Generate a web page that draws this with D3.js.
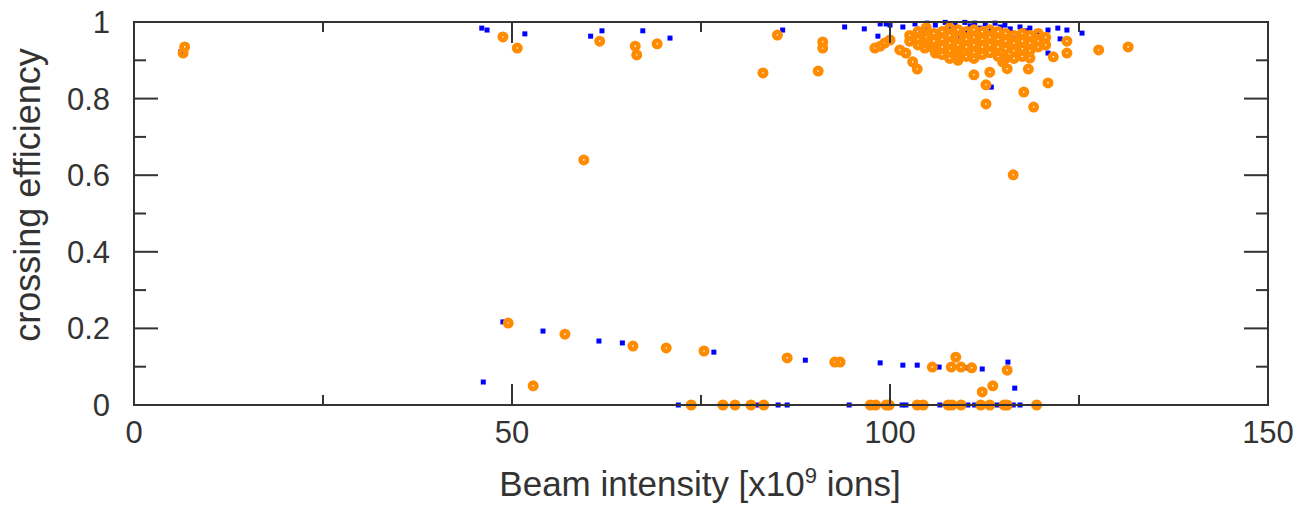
<!DOCTYPE html>
<html>
<head>
<meta charset="utf-8">
<script src="https://cdn.jsdelivr.net/npm/d3@7"></script>
<style>
  body { margin: 0; background: #fff; }
  text { font-family: "Liberation Sans", Arial, sans-serif; fill: #333; }
</style>
</head>
<body>
<svg id="chart" width="1300" height="505"></svg>
<script>
// beam intensity (x) / crossing efficiency (y)
var blueTop = [
    [6.2, 0.922], [46.0, 0.984], [46.7, 0.979], [51.7, 0.969], [60.4, 0.963], [61.9, 0.977],
    [67.3, 0.977], [70.9, 0.958], [85.8, 0.979], [94.0, 0.987], [96.6, 0.982], [98.4, 0.963],
    [98.7, 0.995], [99.5, 0.995], [100.0, 0.992], [101.7, 0.987], [103.3, 0.995], [104.1, 0.971],
    [104.6, 0.979], [104.9, 0.997], [106.0, 0.992], [107.3, 0.999], [107.9, 0.987], [108.6, 0.995],
    [109.3, 0.963], [109.9, 0.977], [109.9, 0.999], [110.6, 0.990], [111.2, 0.997], [111.9, 0.984],
    [112.6, 0.995], [113.2, 0.979], [113.9, 0.997], [114.6, 0.987], [115.2, 0.992], [115.9, 0.982],
    [116.3, 0.958], [117.2, 0.987], [117.9, 0.977], [118.5, 0.984], [119.4, 0.974], [120.9, 0.979],
    [122.2, 0.984], [123.4, 0.979], [122.5, 0.956], [125.4, 0.971], [120.9, 0.919], [113.4, 0.830]
];
var blueLow = [
    [46.2, 0.060], [48.8, 0.217], [54.1, 0.193], [61.5, 0.167], [64.6, 0.162], [76.7, 0.138],
    [88.8, 0.117], [98.7, 0.110], [101.7, 0.104], [103.6, 0.104], [106.5, 0.099], [110.3, 0.097],
    [112.2, 0.094], [115.6, 0.112], [116.5, 0.044]
];
var blueZero = [72.0, 82.4, 85.2, 86.4, 94.6, 101.6, 102.1, 106.6, 110.3, 111.2, 114.2, 116.3, 117.2];

var orangeTop = [
    [6.5, 0.919], [6.7, 0.935], [48.8, 0.961], [50.7, 0.932], [61.6, 0.950], [66.3, 0.937],
    [66.5, 0.914], [69.2, 0.943], [59.5, 0.640], [85.1, 0.966], [83.2, 0.867], [90.5, 0.872],
    [91.1, 0.948], [91.1, 0.932], [98.0, 0.932], [98.7, 0.937], [99.3, 0.945], [100.0, 0.953],
    [101.3, 0.927], [102.1, 0.919], [103.0, 0.896], [103.6, 0.877], [104.6, 0.932], [106.0, 0.919],
    [111.1, 0.862], [113.2, 0.869], [112.7, 0.836], [112.7, 0.786], [118.3, 0.877], [117.7, 0.817],
    [119.0, 0.778], [120.9, 0.841], [121.6, 0.909], [123.4, 0.950], [123.4, 0.919], [127.6, 0.927],
    [131.5, 0.935], [116.3, 0.601], [114.9, 0.896], [115.5, 0.878], [118.5, 0.906], [108.9, 0.909]
];
var orangeCluster = [
    [102.6, [0.965, 0.95]],
    [103.7, [0.975, 0.955, 0.94]],
    [104.8, [0.985, 0.96, 0.945]],
    [105.8, [0.97, 0.95, 0.93]],
    [106.9, [0.975, 0.955, 0.935, 0.915]],
    [107.9, [0.985, 0.965, 0.945, 0.925, 0.905]],
    [109.0, [0.98, 0.96, 0.94, 0.92, 0.9]],
    [110.1, [0.975, 0.955, 0.935, 0.91]],
    [111.1, [0.98, 0.96, 0.94, 0.92, 0.905]],
    [112.2, [0.975, 0.955, 0.935, 0.915]],
    [113.2, [0.98, 0.96, 0.94, 0.92]],
    [114.3, [0.975, 0.955, 0.935, 0.91]],
    [115.3, [0.97, 0.95, 0.93, 0.905]],
    [116.4, [0.965, 0.945, 0.925, 0.905]],
    [117.5, [0.97, 0.95, 0.93, 0.91]],
    [118.5, [0.965, 0.945, 0.925]],
    [119.6, [0.97, 0.95, 0.935]],
    [120.6, [0.96, 0.94]]
];
var orangeLow = [
    [49.5, 0.214], [52.8, 0.050], [57.0, 0.185], [66.0, 0.154], [70.4, 0.149], [75.4, 0.141],
    [86.4, 0.123], [92.7, 0.112], [93.4, 0.112], [105.6, 0.099], [108.1, 0.099], [108.7, 0.125],
    [109.4, 0.099], [110.8, 0.097], [115.5, 0.091], [113.6, 0.050], [112.2, 0.034]
];
var orangeZero = [73.7, 77.9, 79.5, 81.6, 83.3, 97.4, 98.1, 99.5, 99.9, 103.6, 104.4, 107.7,
    108.2, 109.4, 112.0, 113.2, 115.1, 115.5, 119.4];

var xTicks = [0, 50, 100, 150];
var xMinor = [25, 75, 125];
var yTicks = [0, 0.2, 0.4, 0.6, 0.8, 1];
var yMinor = [0.1, 0.3, 0.5, 0.7, 0.9];

function drawChart() {
    var svg = d3.select("#chart");
    var pLeft = 134, pRight = 1268, pTop = 22, pBottom = 405;

    var x = d3.scaleLinear().domain([0, 150]).range([pLeft, pRight]);
    var y = d3.scaleLinear().domain([0, 1]).range([pBottom, pTop]);

    var blue = blueTop.concat(blueLow, blueZero.map(function(v) { return [v, 0]; }));
    var orange = orangeTop.concat(orangeLow, orangeZero.map(function(v) { return [v, 0]; }));
    orangeCluster.forEach(function(c) {
        c[1].forEach(function(v) { orange.push([c[0], v]); });
    });

    // blue squares underneath
    svg.append("g").selectAll("rect")
        .data(blue)
        .enter().append("rect")
        .attr("x", function(d) { return x(d[0]) - 2.5; })
        .attr("y", function(d) { return y(d[1]) - 2.5; })
        .attr("width", 5)
        .attr("height", 5)
        .style("fill", "#0000ff");

    // orange dots with a pin hole in the middle
    function ringPath(r, h) {
        var p = d3.path();
        p.moveTo(r, 0); p.arc(0, 0, r, 0, 2 * Math.PI);
        p.moveTo(h, 0); p.arc(0, 0, h, 0, 2 * Math.PI);
        return p.toString();
    }
    svg.append("g").selectAll("path")
        .data(orange)
        .enter().append("path")
        .attr("d", ringPath(5.5, 0.8))
        .attr("transform", function(d) { return "translate(" + x(d[0]) + "," + y(d[1]) + ")"; })
        .style("fill", "#ff8c00")
        .style("fill-rule", "evenodd");

    // frame
    var axisColor = "#333";
    svg.append("rect")
        .attr("x", pLeft).attr("y", pTop)
        .attr("width", pRight - pLeft).attr("height", pBottom - pTop)
        .style("fill", "none").style("stroke", axisColor).style("stroke-width", 2);

    var ticks = svg.append("g").style("stroke", axisColor).style("stroke-width", 2);
    function xTick(v, len) {
        ticks.append("line").attr("x1", x(v)).attr("x2", x(v)).attr("y1", pBottom).attr("y2", pBottom - len);
        ticks.append("line").attr("x1", x(v)).attr("x2", x(v)).attr("y1", pTop).attr("y2", pTop + len);
    }
    function yTick(v, len) {
        ticks.append("line").attr("y1", y(v)).attr("y2", y(v)).attr("x1", pLeft).attr("x2", pLeft + len);
        ticks.append("line").attr("y1", y(v)).attr("y2", y(v)).attr("x1", pRight).attr("x2", pRight - len);
    }
    xTicks.forEach(function(v) { xTick(v, 21); });
    xMinor.forEach(function(v) { xTick(v, 10); });
    yTicks.forEach(function(v) { yTick(v, 24); });
    yMinor.forEach(function(v) { yTick(v, 12); });

    // tick labels
    svg.append("g").selectAll("text")
        .data(xTicks)
        .enter().append("text")
        .attr("x", function(d) { return x(d); })
        .attr("y", 443)
        .attr("text-anchor", "middle")
        .style("font-size", "31px")
        .text(function(d) { return d; });

    svg.append("g").selectAll("text")
        .data(yTicks)
        .enter().append("text")
        .attr("x", 110)
        .attr("y", function(d) { return y(d) + 11; })
        .attr("text-anchor", "end")
        .style("font-size", "31px")
        .text(function(d) { return d; });

    // axis titles
    var xt = svg.append("text")
        .attr("x", 700)
        .attr("y", 496)
        .attr("text-anchor", "middle")
        .style("font-size", "35px");
    xt.append("tspan").text("Beam intensity [x10");
    xt.append("tspan").attr("dy", -13).style("font-size", "22px").text("9");
    xt.append("tspan").attr("dy", 13).text(" ions]");

    svg.append("text")
        .attr("transform", "translate(40,195) rotate(-90)")
        .attr("text-anchor", "middle")
        .style("font-size", "36px")
        .text("crossing efficiency");
}

drawChart();
</script>
</body>
</html>
